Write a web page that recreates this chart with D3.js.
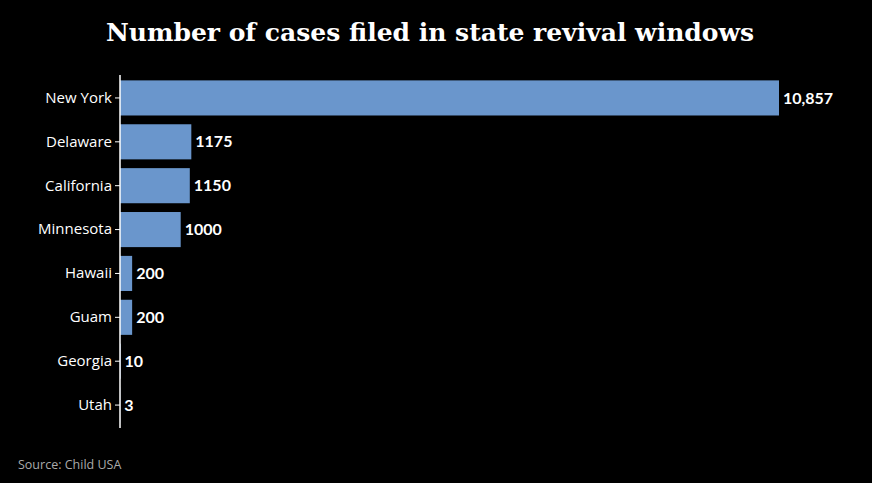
<!DOCTYPE html>
<html><head><meta charset="utf-8">
<script src="https://cdn.jsdelivr.net/npm/d3@7"></script>
<style>body{margin:0;background:#000;}</style></head>
<body><svg id="c" width="872" height="483"></svg>
<script>
const states = ["New York","Delaware","California","Minnesota","Hawaii","Guam","Georgia","Utah"];
const cases = [10857,1175,1150,1000,200,200,10,3];
const valueLabels = ["10,857","1175","1150","1000","200","200","10","3"];

const svg = d3.select("#c");
svg.append("rect").attr("width",872).attr("height",483).attr("fill","#000");
svg.append("text").attr("x",430).attr("y",41).attr("text-anchor","middle")
  .attr("fill","#fff").attr("font-family","'DejaVu Serif',serif").attr("font-weight","bold")
  .attr("font-size",25).text("Number of cases filed in state revival windows");

const x = d3.scaleLinear().domain([0,10857]).range([120,779]);
const y = d3.scaleBand().domain(states).range([76,427]).paddingInner(0.2).paddingOuter(0.1);

svg.selectAll("rect.bar").data(states).join("rect").attr("class","bar")
  .attr("x",x(0)).attr("y",d=>y(d)).attr("height",y.bandwidth())
  .attr("width",(d,i)=>x(cases[i])-x(0)).attr("fill","#6a96cc");

svg.selectAll("text.val").data(states).join("text").attr("class","val")
  .attr("x",(d,i)=>x(cases[i])+4).attr("y",d=>y(d)+y.bandwidth()/2).attr("dy","0.35em")
  .attr("fill","#fff").attr("font-family","Lato,sans-serif").attr("font-weight","bold")
  .attr("font-size",16).text((d,i)=>valueLabels[i]);

const ax = svg.append("g").attr("transform",`translate(${x(0)},0)`)
  .call(d3.axisLeft(y).tickSize(5).tickPadding(3));
ax.select(".domain").attr("stroke","#fff").attr("stroke-width",1.5).attr("d","M0,75V428");
ax.selectAll(".tick line").attr("stroke","#fff");
ax.selectAll(".tick text").attr("fill","#fff").attr("font-family","'Open Sans',sans-serif").attr("font-size",15);

svg.append("text").attr("x",18).attr("y",469).attr("fill","#aaa")
  .attr("font-family","'Open Sans',sans-serif").attr("font-size",12.5).text("Source: Child USA");
</script></body></html>
